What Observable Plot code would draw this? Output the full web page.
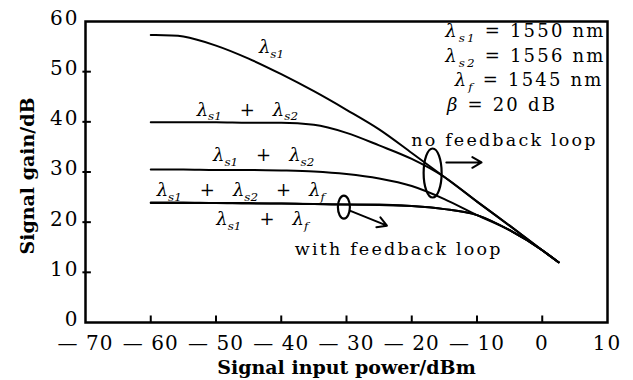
<!DOCTYPE html>
<html><head><meta charset="utf-8">
<script src="https://cdn.jsdelivr.net/npm/d3@7"></script>
<script src="https://cdn.jsdelivr.net/npm/@observablehq/plot@0.6"></script>
<style>
body{margin:0;background:#fff}
svg{display:block}
</style>
</head><body><div id="chart"></div>
<script>
// input power (dBm)
const inputPower = [-60, -55, -50, -45, -40, -35, -30, -25, -20, -15, -10, -5, 0, 2.5];
// signal gain (dB) for each configuration
const gainS1     = [57.3, 57.0, 55.2, 52.6, 49.5, 46.1, 42.4, 38.5, 33.8, 29.0, 24.1, 19.3, 14.4, 12.0];
const gainS1S2a  = [39.9, 39.9, 39.9, 39.8, 39.8, 39.4, 37.8, 35.3, 32.6, 29.0, 24.1, 19.3, 14.4, 12.0];
const gainS1S2b  = [30.5, 30.5, 30.4, 30.4, 30.3, 30.1, 29.6, 28.7, 27.2, 24.6, 21.4, 18.4, 14.4, 12.0];
const gainS1S2f  = [23.9, 23.9, 23.8, 23.8, 23.7, 23.6, 23.5, 23.5, 23.2, 22.6, 21.4, 18.4, 14.4, 12.0];
const gainS1f    = [23.8, 23.8, 23.8, 23.7, 23.7, 23.6, 23.5, 23.4, 23.2, 22.6, 21.4, 18.4, 14.4, 12.0];

const xTicks = [-70, -60, -50, -40, -30, -20, -10, 0, 10];
const yTicks = [0, 10, 20, 30, 40, 50, 60];

const curveLabels = [
  {x: -41.5, y: 54.8, text: "λ_s1"},
  {x: -45.2, y: 42.4, text: "λ_s1 + λ_s2"},
  {x: -42.7, y: 33.3, text: "λ_s1 + λ_s2"},
  {x: -46.2, y: 26.4, text: "λ_s1 + λ_s2 + λ_f"},
  {x: -42.9, y: 20.6, text: "λ_s1 + λ_f"}
];
const paramLabels = [
  {x: 9.7, y: 58.0, text: "λ_s1 = 1550 nm"},
  {x: 9.7, y: 53.1, text: "λ_s2 = 1556 nm"},
  {x: 9.4, y: 48.3, text: "λ_f = 1545 nm"}
];
const betaLabel = [{x: -14.6, y: 43.3, text: "β = 20 dB"}];
const notes = [
  {x: -5.8, y: 36.3, text: "no feedback loop"},
  {x: -22.0, y: 14.5, text: "with feedback loop"}
];
const loopNoFb = [{x: -16.8, y: 29.8}];
const loopFb = [{x: -30.4, y: 23.0}];
const arrows = [
  {x1: -14.7, y1: 31.9, x2: -9.3, y2: 31.9},
  {x1: -29.5, y1: 22.3, x2: -23.8, y2: 19.3}
];

const mainSeries = [["λs1", gainS1]];
const otherSeries = [
  ["λs1+λs2 a", gainS1S2a], ["λs1+λs2 b", gainS1S2b],
  ["λs1+λs2+λf", gainS1S2f], ["λs1+λf", gainS1f]
];
const toRows = list => list.flatMap(([name, g]) => inputPower.map((p, i) => ({name, p, g: g[i]})));

function ellipseSymbol(rx, ry) {
  const k = 0.5523;
  return {draw(ctx) {
    ctx.moveTo(rx, 0);
    ctx.bezierCurveTo(rx, ry * k, rx * k, ry, 0, ry);
    ctx.bezierCurveTo(-rx * k, ry, -rx, ry * k, -rx, 0);
    ctx.bezierCurveTo(-rx, -ry * k, -rx * k, -ry, 0, -ry);
    ctx.bezierCurveTo(rx * k, -ry, rx, -ry * k, rx, 0);
    ctx.closePath();
  }};
}

const fmt = d => d < 0 ? "— " + (-d) : String(d);

const chart = Plot.plot({
  width: 633, height: 380,
  marginLeft: 85, marginRight: 26, marginTop: 21, marginBottom: 58,
  x: {domain: [-70, 10]},
  y: {domain: [0, 60]},
  style: {fontFamily: "DejaVu Serif", background: "white", color: "black"},
  marks: [
    Plot.axisX(xTicks, {tickSize: 0, tickPadding: 13, tickFormat: fmt, fontSize: 20, label: null}),
    Plot.axisY(yTicks, {tickSize: 0, tickPadding: 6, fontSize: 20, dy: -3, label: null}),
    Plot.ruleX(xTicks.slice(1, -1), {x: d => d, y1: 0, y2: 1.3, strokeWidth: 2}),
    Plot.ruleY(yTicks.slice(1, -1), {y: d => d, x1: -70.4, x2: -69.1, strokeWidth: 2}),
    Plot.line(toRows(otherSeries), {x: "p", y: "g", z: "name", curve: "monotone-x", stroke: "black", strokeWidth: 2}),
    Plot.line(toRows(mainSeries), {x: "p", y: "g", z: "name", curve: "catmull-rom", stroke: "black", strokeWidth: 2}),
    Plot.dot(loopNoFb, {x: "x", y: "y", symbol: ellipseSymbol(9, 24.5), stroke: "black", fill: "none", strokeWidth: 2.2}),
    Plot.dot(loopFb, {x: "x", y: "y", symbol: ellipseSymbol(6, 11.5), stroke: "black", fill: "none", strokeWidth: 2.2}),
    Plot.arrow(arrows, {x1: "x1", y1: "y1", x2: "x2", y2: "y2", stroke: "black", strokeWidth: 2, headLength: 8}),
    Plot.text(curveLabels, {x: "x", y: "y", text: "text", fontSize: 18}),
    Plot.text(paramLabels, {x: "x", y: "y", text: "text", fontSize: 18, textAnchor: "end"}),
    Plot.text(betaLabel, {x: "x", y: "y", text: "text", fontSize: 18, textAnchor: "start"}),
    Plot.text(notes, {x: "x", y: "y", text: "text", fontSize: 17.5}),
    Plot.text(["Signal input power/dBm"], {frameAnchor: "bottom", lineAnchor: "middle", textAnchor: "middle", dy: 45, fontSize: 19, fontWeight: "bold"}),
    Plot.text(["Signal gain/dB"], {frameAnchor: "left", lineAnchor: "middle", textAnchor: "middle", dx: -58, dy: 4, rotate: -90, fontSize: 19, fontWeight: "bold"}),
    Plot.frame({stroke: "black", strokeWidth: 2.5})
  ]
});

function mathify(t, wide) {
  const NS = "http://www.w3.org/2000/svg";
  const s = t.textContent;
  const fs = parseFloat(getComputedStyle(t).fontSize) || 18;
  const shift = (0.26 * fs).toFixed(1);
  while (t.firstChild) t.removeChild(t.firstChild);
  let shifted = false;
  const add = (str, attrs) => {
    const ts = document.createElementNS(NS, "tspan");
    for (const k in attrs) ts.setAttribute(k, attrs[k]);
    ts.textContent = str;
    t.appendChild(ts);
  };
  const plain = str => {
    if (wide) str = str.replace(/ /g, "\u2003");
    const a = {};
    if (shifted) { a.dy = -shift; shifted = false; }
    add(str, a);
  };
  const re = /([λβ])(?:_([a-z0-9]+))?/g;
  let last = 0, m;
  while ((m = re.exec(s))) {
    if (m.index > last) plain(s.slice(last, m.index));
    const a = {"font-style": "italic"};
    if (shifted) { a.dy = -shift; shifted = false; }
    add(m[1], a);
    if (m[2]) {
      add(m[2], {"font-style": "italic", "font-size": (0.66 * fs).toFixed(1), dy: shift});
      shifted = true;
    }
    last = re.lastIndex;
  }
  if (last < s.length) plain(s.slice(last));
}

document.getElementById("chart").appendChild(chart);
chart.querySelectorAll("text").forEach(t => {
  const s = t.textContent;
  if (/[λβ]/.test(s)) {
    const isParam = s.includes("=");
    mathify(t, !isParam);
    if (isParam) t.style.letterSpacing = "2.2px";
  } else if (/feedback/.test(s)) {
    t.style.letterSpacing = "2.2px";
  } else if (/^[—\s\d]+$/.test(s)) {
    t.style.letterSpacing = s.includes("—") ? "1px" : "2px";
  }
});
</script>
</body></html>
